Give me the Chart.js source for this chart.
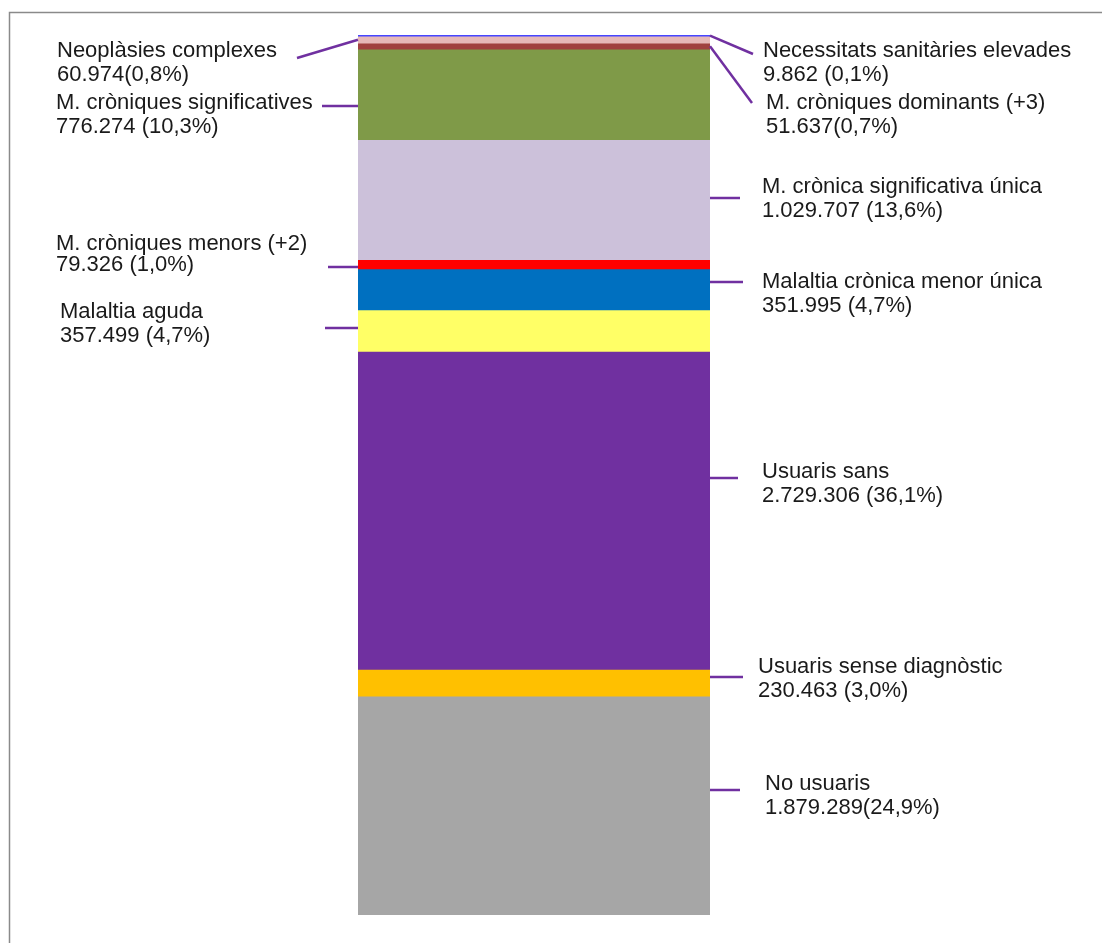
<!DOCTYPE html>
<html>
<head>
<meta charset="utf-8">
<script src="https://cdn.jsdelivr.net/npm/chart.js@4"></script>
<style>
    html, body { margin: 0; padding: 0; background: #fff; overflow: hidden; }
    #chart { display: block; }
</style>
</head>
<body>
<canvas id="chart" width="1102" height="943"></canvas>
<script>
// --- Data (top of the stack first) ---
const categories = [
    'Necessitats sanitàries elevades',
    'Neoplàsies complexes',
    'M. cròniques dominants (+3)',
    'M. cròniques significatives',
    'M. crònica significativa única',
    'M. cròniques menors (+2)',
    'Malaltia crònica menor única',
    'Malaltia aguda',
    'Usuaris sans',
    'Usuaris sense diagnòstic',
    'No usuaris'
];
const population = [9862, 60974, 51637, 776274, 1029707, 79326, 351995, 357499, 2729306, 230463, 1879289];
const valueLabels = [
    '9.862 (0,1%)', '60.974(0,8%)', '51.637(0,7%)', '776.274 (10,3%)', '1.029.707 (13,6%)',
    '79.326 (1,0%)', '351.995 (4,7%)', '357.499 (4,7%)', '2.729.306 (36,1%)', '230.463 (3,0%)',
    '1.879.289(24,9%)'
];

// --- Styles ---
const segmentColors = ['#4646ff', '#e6b9b8', '#a0413f', '#7f9a48', '#ccc1da', '#ff0000',
    '#0070c0', '#ffff66', '#7030a0', '#ffc000', '#a6a6a6'];
const leaderColor = '#7030a0';

// label placement: text x / baseline, leader end point, leader y at the bar (null = segment middle)
const labelLayout = [
    { side: 'right', tx: 763, ty: 57, ex: 753, ey: 54, by: null },
    { side: 'left', tx: 57, ty: 57, ex: 297, ey: 58, by: null },
    { side: 'right', tx: 766, ty: 109, ex: 752, ey: 103, by: null },
    { side: 'left', tx: 56, ty: 109, ex: 322, ey: 106, by: 106 },
    { side: 'right', tx: 762, ty: 193, ex: 740, ey: 198, by: 198 },
    { side: 'left', tx: 56, ty: 250, ex: 328, ey: 267, by: 267, gap: 21 },
    { side: 'right', tx: 762, ty: 288, ex: 743, ey: 282, by: 282 },
    { side: 'left', tx: 60, ty: 318, ex: 325, ey: 328, by: 328 },
    { side: 'right', tx: 762, ty: 478, ex: 738, ey: 478, by: 478 },
    { side: 'right', tx: 758, ty: 673, ex: 743, ey: 677, by: 677 },
    { side: 'right', tx: 765, ty: 790, ex: 740, ey: 790, by: 790 }
];

const total = population.reduce((a, b) => a + b, 0);

// frame + labels with leader lines
const annotations = {
    id: 'annotations',
    beforeDraw(chart) {
        const ctx = chart.ctx;
        ctx.save();
        ctx.strokeStyle = '#8a8a8a';
        ctx.lineWidth = 1.5;
        ctx.beginPath();
        ctx.moveTo(9.5, 1000);
        ctx.lineTo(9.5, 12.5);
        ctx.lineTo(1200, 12.5);
        ctx.stroke();
        ctx.restore();
    },
    afterDatasetsDraw(chart) {
        const ctx = chart.ctx;
        ctx.save();
        ctx.font = '22px "Liberation Sans", Arial, sans-serif';
        ctx.textBaseline = 'alphabetic';
        ctx.fillStyle = '#1a1a1a';
        ctx.strokeStyle = leaderColor;
        ctx.lineWidth = 2.5;
        labelLayout.forEach((lab, i) => {
            const bar = chart.getDatasetMeta(i).data[0];
            const edgeX = lab.side === 'left' ? bar.x - bar.width / 2 : bar.x + bar.width / 2;
            const y = lab.by === null ? (bar.y + bar.base) / 2 : lab.by;
            ctx.beginPath();
            ctx.moveTo(edgeX, y);
            ctx.lineTo(lab.ex, lab.ey);
            ctx.stroke();
            ctx.fillText(categories[i], lab.tx, lab.ty);
            ctx.fillText(valueLabels[i], lab.tx, lab.ty + (lab.gap || 24));
        });
        ctx.restore();
    }
};

new Chart(document.getElementById('chart'), {
    type: 'bar',
    data: {
        labels: [''],
        datasets: categories.map((name, i) => ({
            label: name,
            data: [population[i]],
            backgroundColor: segmentColors[i],
            borderWidth: 0,
            barPercentage: 1,
            categoryPercentage: 1
        }))
    },
    options: {
        responsive: false,
        animation: false,
        layout: { padding: { left: 358, right: 392, top: 35, bottom: 28 } },
        scales: {
            x: { stacked: true, display: false },
            y: { stacked: true, display: false, reverse: true, min: 0, max: total }
        },
        plugins: {
            legend: { display: false },
            tooltip: { enabled: false }
        }
    },
    plugins: [annotations]
});
</script>
</body>
</html>
